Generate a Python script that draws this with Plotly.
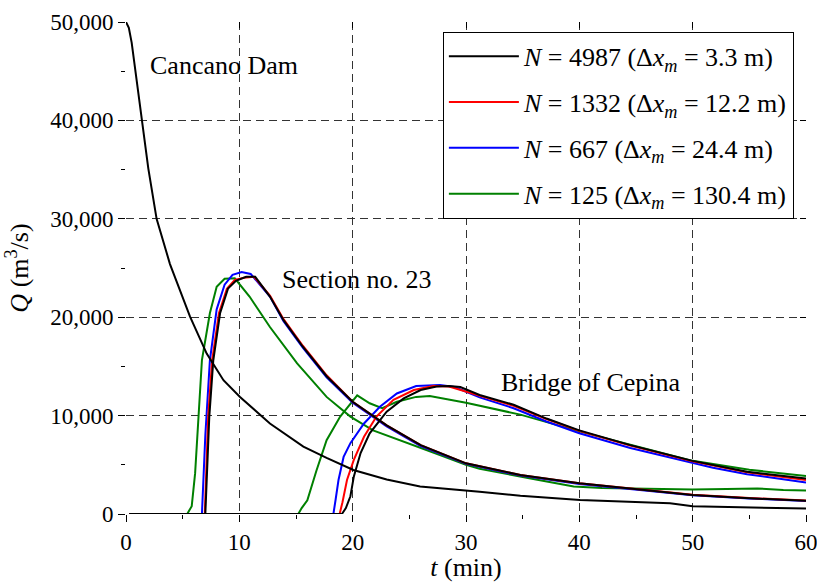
import plotly.graph_objects as go

# ---------------- data ----------------
legend_labels = [
    "<i>N</i> = 4987 (Δ<i>x<sub>m</sub></i> = 3.3 m)",
    "<i>N</i> = 1332 (Δ<i>x<sub>m</sub></i> = 12.2 m)",
    "<i>N</i> = 667 (Δ<i>x<sub>m</sub></i> = 24.4 m)",
    "<i>N</i> = 125 (Δ<i>x<sub>m</sub></i> = 130.4 m)",
]
series_colors = ["#000000", "#ff0000", "#0000ff", "#008000"]

# Cancano Dam outflow (only one curve visible)
t_dam = [0, 0.25, 0.5, 0.94, 1.38, 1.97, 2.7, 3.88, 5.65, 7.12, 8.6, 10.06, 12.7, 15.65,
         17.7, 20.06, 23, 25.95, 31.2, 34.8, 40.07, 45, 48, 50, 55, 60]
q_dam = [50000, 49400, 47900, 43900, 39900, 35100, 30000, 25400, 20050, 16300, 13600, 11900,
         9200, 6850, 5700, 4470, 3500, 2800, 2270, 1850, 1420, 1250, 1100, 780, 700, 560]

# Section no. 23
t_s23_n4987 = [0.3, 7.0, 7.35, 7.7, 8.3, 9.0, 9.7, 10.6, 11.4, 12.7, 13.9, 15.6, 17.7,
               20.0, 23.0, 26.0, 30.0, 34.8, 40.0, 45, 50, 55, 60]
q_s23_n4987 = [0, 0, 9900, 15600, 20400, 22900, 23700, 24100, 24100, 22100, 19700, 17000,
               14000, 11400, 9000, 7000, 5150, 3960, 3120, 2500, 1930, 1600, 1350]
t_s23_n1332 = [0.3, 6.95, 7.25, 7.6, 8.2, 8.9, 9.6, 10.4, 11.3, 12.7, 13.9, 15.6, 17.7,
               20.0, 23.0, 26.0, 30.0, 34.8, 40.0, 45, 50, 55, 60]
q_s23_n1332 = [0, 0, 9900, 15600, 20400, 22900, 23800, 24000, 24100, 22200, 19800, 17100,
               14100, 11400, 9000, 7000, 5150, 3960, 3120, 2500, 1950, 1620, 1380]
t_s23_n667 = [0.3, 6.7, 7.0, 7.4, 8.0, 8.7, 9.4, 10.2, 11.0, 12.7, 13.9, 15.6, 17.7,
              20.0, 23.0, 26.0, 30.0, 34.8, 40.0, 45, 50, 55, 60]
q_s23_n667 = [0, 0, 8000, 15600, 20800, 23300, 24300, 24600, 24400, 22100, 19600, 16900,
              13900, 11300, 8900, 6900, 5100, 3900, 3050, 2450, 1900, 1580, 1330]
t_s23_n125 = [0.3, 5.4, 5.8, 6.1, 6.7, 7.4, 8.0, 8.7, 9.6, 10.9, 12.7, 15.1, 17.7, 19.8,
              21.8, 23.0, 25.4, 27.7, 30.0, 31.2, 35.7, 39.5, 42, 45, 50, 53, 55.7, 58, 60]
q_s23_n125 = [0, 0, 800, 4150, 15650, 20400, 23100, 23900, 23950, 22100, 19000, 15300,
              11900, 9900, 8500, 8000, 7000, 6000, 5000, 4600, 3600, 2800, 2650, 2600,
              2500, 2550, 2600, 2450, 2400]

# Bridge of Cepina
t_bc_n4987 = [0.3, 19.05, 19.4, 19.8, 20.1, 20.7, 21.5, 23.0, 24.5, 26.0, 27.4, 28.5,
              29.5, 31.2, 34.2, 37.1, 40.0, 44.5, 50.0, 54.8, 60]
q_bc_n4987 = [0, 0, 600, 1800, 3800, 6200, 8200, 10400, 11750, 12600, 12950, 13000,
              12900, 12100, 11100, 9700, 8500, 7000, 5400, 4300, 3600]
t_bc_n1332 = [0.3, 18.85, 19.1, 19.5, 20.1, 21.0, 22.1, 23.6, 25.4, 27.1, 28.5, 31.2,
              34.2, 37.1, 40.0, 44.5, 50, 54.8, 60]
q_bc_n1332 = [0, 0, 1200, 3450, 5500, 7850, 9900, 11600, 12600, 13000, 12950, 12050,
              11000, 9650, 8450, 6950, 5350, 4250, 3450]
t_bc_n667 = [0.3, 18.3, 18.5, 18.75, 19.2, 19.8, 21.0, 22.4, 23.9, 25.6, 27.7, 29.0,
             31.2, 34.2, 37.1, 40.0, 44.5, 50, 51.8, 54.8, 60]
q_bc_n667 = [0, 0, 1500, 3450, 5800, 7200, 9200, 10900, 12250, 13000, 13100, 12900,
             11850, 10750, 9400, 8200, 6700, 5150, 4700, 4050, 3200]
t_bc_n125 = [0.3, 15.2, 15.5, 16.0, 16.8, 17.7, 18.9, 20.4, 21.5, 22.6, 23.9, 25.6,
             26.8, 30.0, 34.8, 40.0, 45, 50, 55, 60]
q_bc_n125 = [0, 0, 600, 1400, 4400, 7500, 9900, 12050, 11250, 10750, 11400, 11900,
             12000, 11300, 10100, 8400, 6900, 5400, 4500, 3850]

x_ticks = [0, 10, 20, 30, 40, 50, 60]
y_ticks = [0, 10000, 20000, 30000, 40000, 50000]

annot_text = ["Cancano Dam", "Section no. 23", "Bridge of Cepina"]
annot_x = [1.9, 13.6, 32.9]
annot_y = [45600, 23800, 13400]

# ---------------- figure ----------------
FONT = "Liberation Serif"
fig = go.Figure()

s23 = [(t_s23_n4987, q_s23_n4987), (t_s23_n1332, q_s23_n1332),
       (t_s23_n667, q_s23_n667), (t_s23_n125, q_s23_n125)]
bc = [(t_bc_n4987, q_bc_n4987), (t_bc_n1332, q_bc_n1332),
      (t_bc_n667, q_bc_n667), (t_bc_n125, q_bc_n125)]

# legend order black, red, blue, green; black drawn on top via zorder
for i in range(4):
    g = "g%d" % i
    z = 4 - i
    fig.add_trace(go.Scatter(x=s23[i][0], y=s23[i][1], mode="lines",
                             line=dict(color=series_colors[i], width=2),
                             name=legend_labels[i], legendgroup=g, zorder=z,
                             showlegend=True))
    fig.add_trace(go.Scatter(x=bc[i][0], y=bc[i][1], mode="lines",
                             line=dict(color=series_colors[i], width=2),
                             name=legend_labels[i], legendgroup=g, zorder=z,
                             showlegend=False))
    if i == 0:
        fig.add_trace(go.Scatter(x=t_dam, y=q_dam, mode="lines",
                                 line=dict(color=series_colors[0], width=2),
                                 name=legend_labels[0], legendgroup=g, zorder=z,
                                 showlegend=False))

for txt, ax, ay in zip(annot_text, annot_x, annot_y):
    fig.add_annotation(x=ax, y=ay, text=txt, showarrow=False, xanchor="left",
                       yanchor="middle", font=dict(family=FONT, size=26, color="#000"))

grid_dash = "8px,5px"
fig.update_layout(
    width=817, height=582,
    margin=dict(l=126, r=11, t=22, b=68),
    paper_bgcolor="white", plot_bgcolor="white",
    font=dict(family=FONT, size=23, color="#000"),
    showlegend=True,
    legend=dict(x=0.466, y=0.98, xanchor="left", yanchor="top",
                bgcolor="white", bordercolor="#000", borderwidth=1,
                font=dict(family=FONT, size=26, color="#000"),
                tracegroupgap=9, traceorder="grouped", itemwidth=70),
    xaxis=dict(range=[0, 60], tickvals=x_ticks, ticks="outside", ticklen=7,
               tickwidth=1, tickcolor="#000", showline=True, linecolor="#000",
               linewidth=1, showgrid=True, gridcolor="#333", griddash=grid_dash,
               gridwidth=1, zeroline=False, automargin=False,
               ticklabeloverflow="allow",
               minor=dict(dtick=5, ticks="outside", ticklen=4, tickcolor="#000", showgrid=False),
               title=dict(text="<i>t</i> (min)", font=dict(family=FONT, size=26), standoff=4),
               tickfont=dict(family=FONT, size=23)),
    yaxis=dict(range=[0, 50000], tickvals=y_ticks, tickformat=",d", ticks="outside",
               ticklen=7, tickwidth=1, tickcolor="#000", showline=True,
               linecolor="#000", linewidth=1, showgrid=True, gridcolor="#333",
               griddash=grid_dash, gridwidth=1, zeroline=False, automargin=False,
               ticklabeloverflow="allow",
               minor=dict(dtick=5000, ticks="outside", ticklen=4, tickcolor="#000", showgrid=False),
               title=dict(text="<i>Q</i> (m<sup>3</sup>/s)", font=dict(family=FONT, size=26), standoff=14),
               tickfont=dict(family=FONT, size=23)),
    xaxis2=dict(range=[0, 60], overlaying="x", side="top", matches="x",
                tickvals=x_ticks, ticks="inside", ticklen=6, tickcolor="#000",
                showticklabels=False, showline=True, linecolor="#000", linewidth=1,
                showgrid=False, zeroline=False, automargin=False),
    yaxis2=dict(range=[0, 50000], overlaying="y", side="right",
                tickvals=y_ticks, ticks="inside", ticklen=6, tickcolor="#000",
                showticklabels=False, showline=True, linecolor="#000", linewidth=1,
                showgrid=False, zeroline=False, automargin=False),
)

# invisible trace to anchor the mirror axes
fig.add_trace(go.Scatter(x=[0, 60], y=[0, 50000], xaxis="x2", yaxis="y2",
                         mode="lines", line=dict(width=0), opacity=0,
                         showlegend=False, hoverinfo="skip"))

fig.write_html("out.html", config={"displayModeBar": False},
               post_script="document.body.style.margin='0px';document.body.style.overflow='hidden';")
